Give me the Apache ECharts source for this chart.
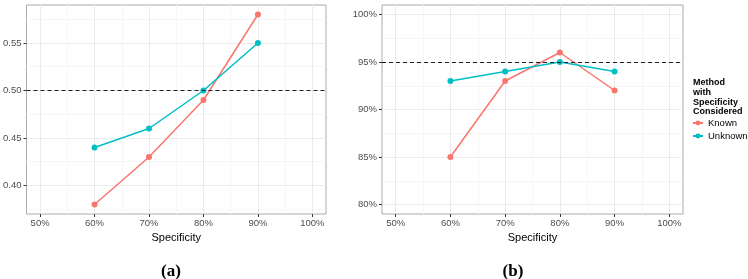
<!DOCTYPE html>
<html>
<head>
<meta charset="utf-8">
<script src="https://cdn.jsdelivr.net/npm/echarts@6/dist/echarts.min.js"></script>
<style>
  html, body { margin: 0; padding: 0; background: #fff; }
  #chart { width: 748px; height: 279px; }
</style>
</head>
<body>
<div id="chart"></div>
<script>
    // data
    var specificity = [60, 70, 80, 90];
    var xTicks = [50, 60, 70, 80, 90, 100];
    var knownA = [0.38, 0.43, 0.49, 0.58];
    var unknownA = [0.44, 0.46, 0.50, 0.55];
    var knownB = [85, 93, 96, 92];
    var unknownB = [93, 94, 95, 94];
    var yTicksA = [0.40, 0.45, 0.50, 0.55];
    var yTicksB = [80, 85, 90, 95, 100];
    var refA = 0.50;
    var refB = 95;

    var RED = '#F8766D';
    var CYAN = '#00BFC4';
    var FONT = 'Liberation Sans';

    function pairs(ys) {
        return specificity.map(function (x, i) { return [x, ys[i]]; });
    }

    function xAxisOf(idx) {
        return {
            type: 'value',
            gridIndex: idx,
            min: 47.5,
            max: 102.5,
            splitNumber: 5,
            name: 'Specificity',
            nameLocation: 'middle',
            nameGap: 13,
            nameTextStyle: { fontFamily: FONT, fontSize: 11, color: '#000' },
            axisLine: { show: false },
            axisTick: { show: true, length: 3, customValues: xTicks, lineStyle: { color: '#333' } },
            axisLabel: {
                customValues: xTicks,
                margin: 4,
                fontFamily: FONT, fontSize: 9.5, color: '#4d4d4d',
                formatter: function (v) { return v + '%'; }
            },
            splitLine: { show: true, lineStyle: { color: '#ebebeb', width: 1 } },
            minorTick: { show: false, splitNumber: 2 },
            minorSplitLine: { show: true, lineStyle: { color: '#f6f6f6', width: 1 } }
        };
    }

    function yAxisOf(idx, min, max, ticks, fmt) {
        return {
            type: 'value',
            gridIndex: idx,
            min: min,
            max: max,
            splitNumber: 5,
            axisLine: { show: false },
            axisTick: { show: true, length: 3, customValues: ticks, lineStyle: { color: '#333' } },
            axisLabel: {
                customValues: ticks,
                margin: 5,
                fontFamily: FONT, fontSize: 9.5, color: '#4d4d4d',
                formatter: fmt
            },
            splitLine: { show: true, lineStyle: { color: '#ebebeb', width: 1 } },
            minorTick: { show: false, splitNumber: 2 },
            minorSplitLine: { show: true, lineStyle: { color: '#f6f6f6', width: 1 } }
        };
    }

    function lineSeries(name, idx, ys, color, ref) {
        var s = {
            name: name,
            type: 'line',
            xAxisIndex: idx,
            yAxisIndex: idx,
            data: pairs(ys),
            symbol: 'circle',
            symbolSize: 6,
            lineStyle: { color: color, width: 1.5 },
            itemStyle: { color: color },
            z: 3,
            animation: false
        };
        if (ref != null) {
            s.markLine = {
                silent: true,
                symbol: 'none',
                label: { show: false },
                lineStyle: { color: '#222', type: [4, 3], width: 1 },
                data: [{ yAxis: ref }],
                animation: false
            };
        }
        return s;
    }

    var chart = echarts.init(document.getElementById('chart'), null, { renderer: 'canvas' });
    chart.setOption({
        animation: false,
        backgroundColor: '#fff',
        title: [
            {
                text: 'Method\nwith\nSpecificity\nConsidered',
                left: 693, top: 78,
                padding: 0,
                textStyle: { fontFamily: FONT, fontSize: 9, fontWeight: 'bold', color: '#000', lineHeight: 9.7 }
            },
            {
                text: '(a)', left: 166, top: 258, textAlign: 'center',
                textStyle: { fontFamily: 'Liberation Serif', fontSize: 17, fontWeight: 'bold', color: '#000' }
            },
            {
                text: '(b)', left: 508, top: 258, textAlign: 'center',
                textStyle: { fontFamily: 'Liberation Serif', fontSize: 17, fontWeight: 'bold', color: '#000' }
            }
        ],
        legend: {
            orient: 'vertical',
            left: 692,
            top: 118,
            padding: 0,
            itemWidth: 10,
            itemHeight: 6,
            itemGap: 3,
            data: ['Known', 'Unknown'],
            textStyle: { fontFamily: FONT, fontSize: 9.5, color: '#000', overflow: 'none', width: 60 }
        },
        grid: [
            { left: 25, top: 5, width: 301, height: 209, show: true, borderColor: '#aaa', borderWidth: 1, containLabel: false },
            { left: 382, top: 5, width: 301, height: 209, show: true, borderColor: '#aaa', borderWidth: 1, containLabel: false }
        ],
        xAxis: [xAxisOf(0), xAxisOf(1)],
        yAxis: [
            yAxisOf(0, 0.37, 0.59, yTicksA, function (v) { return v.toFixed(2); }),
            yAxisOf(1, 79, 101, yTicksB, function (v) { return v + '%'; })
        ],
        series: [
            lineSeries('Known', 0, knownA, RED, refA),
            lineSeries('Unknown', 0, unknownA, CYAN, null),
            lineSeries('Known', 1, knownB, RED, refB),
            lineSeries('Unknown', 1, unknownB, CYAN, null)
        ]
    });
</script>
</body>
</html>
